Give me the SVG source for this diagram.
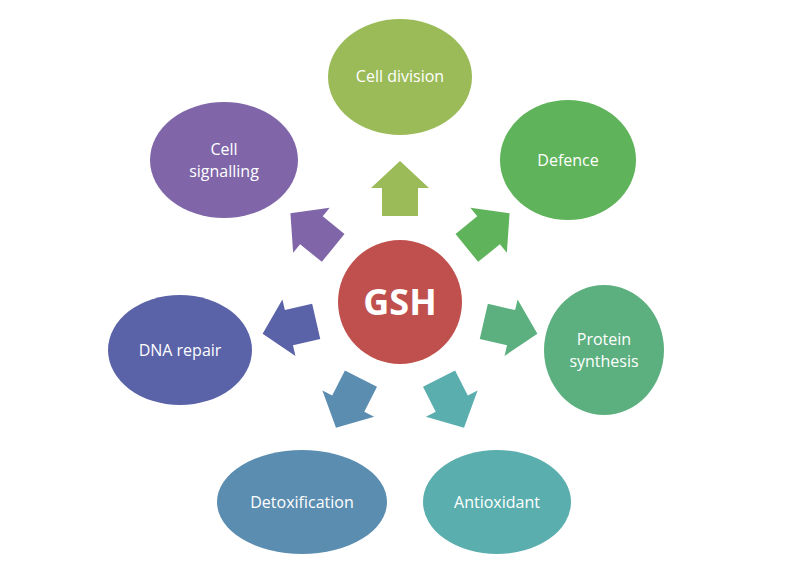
<svg xmlns="http://www.w3.org/2000/svg" width="800" height="577" viewBox="0 0 800 577">
<style>
text{font-family:"Open Sans","Liberation Sans",sans-serif;fill:#fff;text-anchor:middle;font-size:16px}
</style>
<defs><path id="arr" d="M382,216 L382,188 L371,188 L400,161 L429,188 L418,188 L418,216 Z"/></defs>
<rect width="800" height="577" fill="#fff"/>
<g id="connectors">
<use href="#arr" fill="#9bbb59"/>
<use href="#arr" fill="#5fb35a" transform="rotate(51 400 302)"/>
<use href="#arr" fill="#5cb07f" transform="rotate(103 400 302)"/>
<use href="#arr" fill="#5aaead" transform="rotate(153 400 302)"/>
<use href="#arr" fill="#5b8db0" transform="rotate(-153 400 302)"/>
<use href="#arr" fill="#5a62a8" transform="rotate(-103 400 302)"/>
<use href="#arr" fill="#8066a8" transform="rotate(-51 400 302)"/>
</g>
<g id="gsh"><circle cx="400" cy="302" r="62" fill="#c0504d"/><text x="400" y="315" style="font-size:36px;font-weight:bold">GSH</text></g>
<g id="celldivision"><ellipse cx="400" cy="77" rx="72" ry="58" fill="#9bbb59"/><text x="400" y="82">Cell division</text></g>
<g id="defence"><ellipse cx="568" cy="160" rx="68" ry="60" fill="#5fb35a"/><text x="568" y="166">Defence</text></g>
<g id="protein"><ellipse cx="604" cy="350" rx="60" ry="65" fill="#5cb07f"/><text x="604" y="345">Protein</text><text x="604" y="367">synthesis</text></g>
<g id="antioxidant"><ellipse cx="497" cy="502" rx="74" ry="52" fill="#5aaead"/><text x="497" y="508">Antioxidant</text></g>
<g id="detox"><ellipse cx="302" cy="502" rx="85" ry="52" fill="#5b8db0"/><text x="302" y="508">Detoxification</text></g>
<g id="dna"><ellipse cx="180" cy="350" rx="72" ry="55" fill="#5a62a8"/><text x="180" y="356">DNA repair</text></g>
<g id="signalling"><ellipse cx="224" cy="160" rx="74" ry="58" fill="#8066a8"/><text x="224" y="155">Cell</text><text x="224" y="177">signalling</text></g>
</svg>
